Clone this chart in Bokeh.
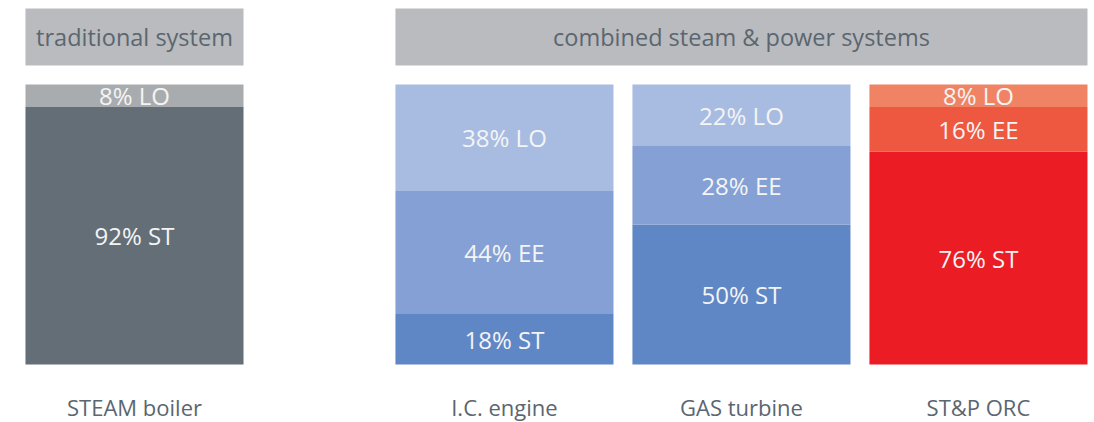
from bokeh.plotting import figure
from bokeh.models import ColumnDataSource, Range1d
from bokeh.core.properties import value
from bokeh.embed import file_html
from bokeh.resources import INLINE

# ---- data ----
systems = ["STEAM boiler", "I.C. engine", "GAS turbine", "ST&P ORC"]
groups = ["traditional system", "combined steam & power systems"]
group_of = [0, 1, 1, 1]
st_pct = [92, 18, 50, 76]
ee_pct = [0, 44, 28, 16]
lo_pct = [8, 38, 22, 8]

# ---- styles ----
FONT = value("Open Sans")
colors = {
    "STEAM boiler": {"ST": "#636e77", "EE": "#8a939a", "LO": "#a9acaf"},
    "I.C. engine": {"ST": "#5f87c6", "EE": "#84a0d4", "LO": "#a8bce2"},
    "GAS turbine": {"ST": "#5f87c6", "EE": "#84a0d4", "LO": "#a8bce2"},
    "ST&P ORC": {"ST": "#ec1c24", "EE": "#ee5840", "LO": "#f08364"},
}
GROUP_GAP = 0.561
BAR_W = 0.92
HEADER_BG = "#b9bbbe"
DARK_TXT = "#5b6670"

xs = [i + GROUP_GAP * g for i, g in enumerate(group_of)]

seg = dict(x=[], bottom=[], top=[], color=[], label=[], mid=[])
for i, name in enumerate(systems):
    b = 0
    for key, vals in (("ST", st_pct), ("EE", ee_pct), ("LO", lo_pct)):
        v = vals[i]
        if v <= 0:
            continue
        seg["x"].append(xs[i])
        seg["bottom"].append(b)
        seg["top"].append(b + v)
        seg["mid"].append(b + v / 2)
        seg["color"].append(colors[name][key])
        seg["label"].append(f"{v}% {key}")
        b += v
src = ColumnDataSource(seg)

W, H = 1092, 422
px_per_unit_x = 237.0
x_start = xs[0] - 134 / px_per_unit_x
x_end = x_start + W / px_per_unit_x
px_per_unit_y = 2.8
y_top = 100 + 84 / px_per_unit_y
y_bot = y_top - H / px_per_unit_y

p = figure(width=W, height=H, output_backend="svg", toolbar_location=None,
           x_range=Range1d(x_start, x_end), y_range=Range1d(y_bot, y_top),
           min_border=0, outline_line_color=None)
p.axis.visible = False
p.grid.visible = False
p.background_fill_color = "white"
p.border_fill_color = "white"

p.vbar(x="x", width=BAR_W, bottom="bottom", top="top", fill_color="color",
       line_color=None, source=src)
p.text(x="x", y="mid", text="label", source=src, text_color="#f4f4f4",
       text_font=FONT, text_font_size="24px", text_align="center",
       text_baseline="middle")

# group header boxes
hdr = dict(left=[], right=[], cx=[], text=[])
for gi, gname in enumerate(groups):
    members = [xs[i] for i in range(len(systems)) if group_of[i] == gi]
    l = min(members) - BAR_W / 2
    r = max(members) + BAR_W / 2
    hdr["left"].append(l)
    hdr["right"].append(r)
    hdr["cx"].append((l + r) / 2)
    hdr["text"].append(gname)
hsrc = ColumnDataSource(hdr)
h_bottom = 100 + 19 / px_per_unit_y
h_top = 100 + 76 / px_per_unit_y
p.quad(left="left", right="right", bottom=h_bottom, top=h_top,
       fill_color=HEADER_BG, line_color=None, source=hsrc)
p.text(x="cx", y=(h_bottom + h_top) / 2, text="text", source=hsrc,
       text_color=DARK_TXT, text_font=FONT, text_font_size="23.5px",
       text_align="center", text_baseline="middle")

# category labels
csrc = ColumnDataSource(dict(x=xs, text=systems))
p.text(x="x", y=-42 / px_per_unit_y, text="text", source=csrc,
       text_color=DARK_TXT, text_font=FONT, text_font_size="22px",
       text_align="center", text_baseline="middle")

open("out.html", "w").write(file_html(p, INLINE))
